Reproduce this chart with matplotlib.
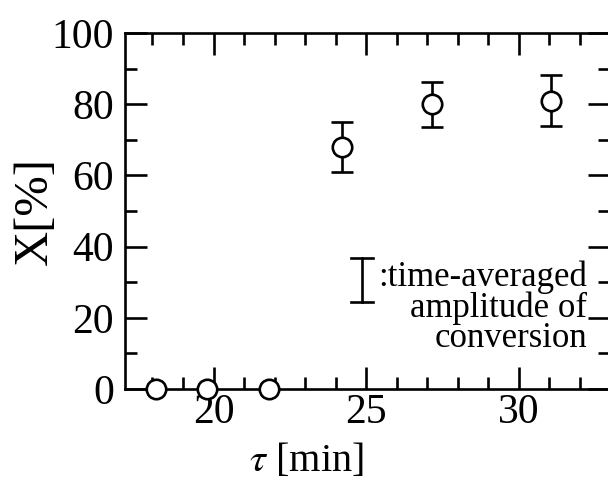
import matplotlib
matplotlib.use("Agg")
import matplotlib.pyplot as plt
from matplotlib.ticker import MultipleLocator

# data
tau_zero = [18.1, 19.8, 21.8]
x_zero = [0, 0, 0]
tau = [24.2, 27.15, 31.05]
conv = [68, 80, 81]
conv_err = [7.1, 6.3, 7.2]

plt.rcParams['font.family'] = ['Liberation Serif', 'DejaVu Serif']
plt.rcParams['mathtext.fontset'] = 'stix'

fig = plt.figure(figsize=(6.08, 4.82), dpi=100)
ax = fig.add_axes([0.2056, 0.193, 0.7985, 0.7385])

lw = 1.9
ax.errorbar(tau, conv, yerr=conv_err, fmt='o', color='black', mfc='white',
            ms=14, mew=lw, elinewidth=lw, capsize=8, capthick=lw, zorder=3)
ax.plot(tau_zero, x_zero, 'o', color='black', mfc='white', ms=14, mew=lw,
        clip_on=False, zorder=5)

ax.set_xlim(17.1, 33.0)
ax.set_ylim(0, 100)
ax.xaxis.set_major_locator(MultipleLocator(5))
ax.xaxis.set_minor_locator(MultipleLocator(1))
ax.yaxis.set_major_locator(MultipleLocator(20))
ax.yaxis.set_minor_locator(MultipleLocator(10))

ax.tick_params(which='both', direction='in', top=True, right=True,
               width=lw, labelsize=30, colors='black')
ax.tick_params(which='major', length=16)
ax.tick_params(which='minor', length=8.5)
ax.tick_params(axis='y', pad=8)
ax.tick_params(axis='x', pad=3)
for s in ax.spines.values():
    s.set_linewidth(lw)

ax.set_ylabel('X[%]', fontsize=35, labelpad=-4)
ax.set_xlabel(r'$\tau$ [min]', fontsize=29, labelpad=0)
ax.xaxis.set_label_coords(0.373, -0.15)

# error bar key drawn in axes units
kx, ky0, ky1, kw = 0.4875, 0.244, 0.368, 0.023
ax.plot([kx, kx], [ky0, ky1], color='black', lw=lw, transform=ax.transAxes)
ax.plot([kx - kw, kx + kw], [ky0, ky0], color='black', lw=lw, transform=ax.transAxes)
ax.plot([kx - kw, kx + kw], [ky1, ky1], color='black', lw=lw, transform=ax.transAxes)
ax.text(0.9516, 0.118, ':time-averaged\namplitude of\nconversion',
        transform=ax.transAxes, ha='right', va='baseline', multialignment='right',
        fontsize=25, linespacing=0.895)

fig.savefig('out.png', dpi=100)
